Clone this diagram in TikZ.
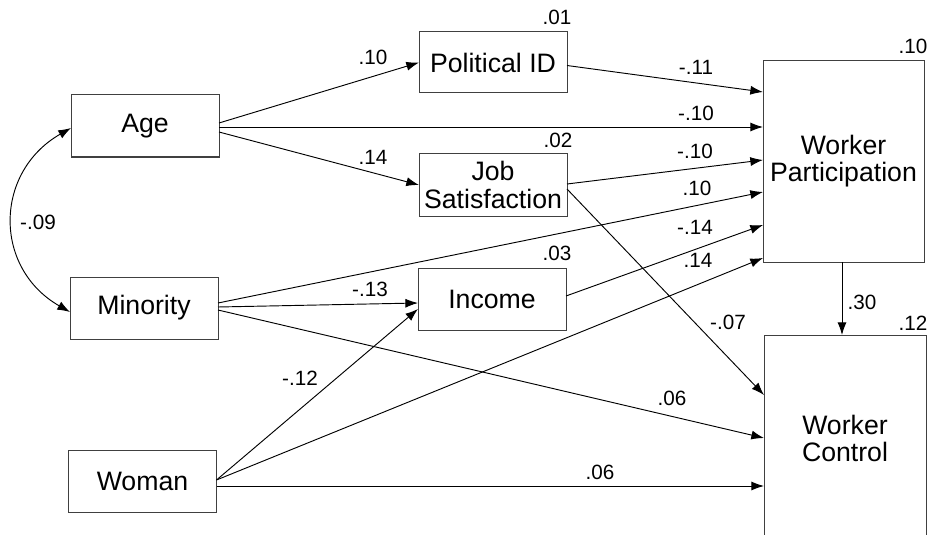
\documentclass[tikz,border=0pt]{standalone}
\usepackage{fontspec}
\setmainfont{Liberation Sans}
\usetikzlibrary{arrows.meta}

\begin{document}
\begin{tikzpicture}[x=0.75pt, y=-0.75pt,
				>={Latex[length=9.5pt,width=6.8pt]},   %Pfeilspitzen
				var/.style={draw=black!75, line width=0.75pt, rectangle, inner sep=0pt, outer sep=0pt,
					minimum width=111pt, minimum height=46.5pt, align=center, font=\fontsize{20}{20.3}\selectfont},
				pfad/.style={->, line width=0.7pt},
				wert/.style={inner sep=0pt, font=\fontsize{15.5}{15.5}\selectfont}]
				\useasboundingbox (0,0) rectangle (929,535);
				\clip (0,0) rectangle (929,535); %Bildbereich
				%Variablen
				\node[var] (age) at (145,126) {Age};
				\node[var] (min) at (144,308) {Minority};
				\node[var] (wom) at (142.5,481) {Woman};
				\node[var, minimum height=45.75pt] (pid) at (493,62.5) {Political ID};
				\node[var] (js) at (493,185) {Job\\Satisfaction};
				\node[var] (inc) at (492,299) {Income};
				\node[var, minimum width=120.75pt, minimum height=150.75pt] (wp) at (843.5,161.5) {Worker\\Participation};
				\node[var, minimum width=121.5pt, minimum height=155.25pt] (wc) at (845,438.5) {Worker\\Control};
				%Andockpunkte
				\foreach \i/\d in {1/31,2/66,3/99,4/131,5/164,6/197}
					\coordinate (wp\i) at ([shift={(0,\d)}]wp.north west);
				\foreach \i/\d in {1/60,2/103,3/151}
					\coordinate (wc\i) at ([shift={(0,\d)}]wc.north west);
				%Pfade
				\draw[pfad] ([shift={(0,-3)}]age.east) -- (pid.west);
				\draw[pfad] ([shift={(0,1)}]age.east) -- (wp2);
				\draw[pfad] ([shift={(0,6)}]age.east) -- (js.west);
				\draw[pfad] ([shift={(0,3)}]pid.east) -- (wp1);
				\draw[pfad] ([shift={(0,-1)}]js.east) -- (wp3);
				\draw[pfad] ([shift={(0,4)}]js.east) -- (wc1);
				\draw[pfad] ([shift={(0,-5)}]min.east) -- (wp4);
				\draw[pfad] ([shift={(0,-1)}]min.east) -- ([shift={(0,4)}]inc.west);
				\draw[pfad] ([shift={(0,2)}]min.east) -- (wc2);
				\draw[pfad] ([shift={(0,-3)}]inc.east) -- (wp5);
				\draw[pfad] ([shift={(0,-1)}]wom.east) -- ([shift={(0,10)}]inc.west);
				\draw[pfad] ([shift={(0,-1)}]wom.east) -- (wp6);
				\draw[pfad] ([shift={(0,5)}]wom.east) -- (wc3);
				\draw[pfad] ([shift={(-1.5,0)}]wp.south) -- ([shift={(-1.5,0)}]wp.south |- wc.north);
				%Korrelation
				\draw[<->, line width=0.7pt] ([shift={(0,2)}]age.west) .. controls +(-77,44) and +(-77,-44) .. ([shift={(0,4)}]min.west);
				%Koeffizienten
				\node[wert] (k1) at (373,57) {.10};
				\node[wert] (k2) at (373,157) {.14};
				\node[wert] (k3) at (38,222) {-.09};
				\node[wert] (k4) at (696,67) {-.11};
				\node[wert] (k5) at (696,113) {-.10};
				\node[wert] (k6) at (695,151) {-.10};
				\node[wert] (k7) at (697,188) {.10};
				\node[wert] (k8) at (695,227) {-.14};
				\node[wert] (k9) at (698,260) {.14};
				\node[wert] (k10) at (370,289) {-.13};
				\node[wert] (k11) at (300,378) {-.12};
				\node[wert] (k12) at (728,322) {-.07};
				\node[wert] (k13) at (672,398) {.06};
				\node[wert] (k14) at (600,472) {.06};
				\node[wert] (k15) at (862,302) {.30};
				%Erklaerte Varianz
				\node[wert] (r1) at (557,17) {.01};
				\node[wert] (r2) at (558,140) {.02};
				\node[wert] (r3) at (557,253) {.03};
				\node[wert] (r4) at (913,46) {.10};
				\node[wert] (r5) at (913,323) {.12};
			\end{tikzpicture}
\end{document}
